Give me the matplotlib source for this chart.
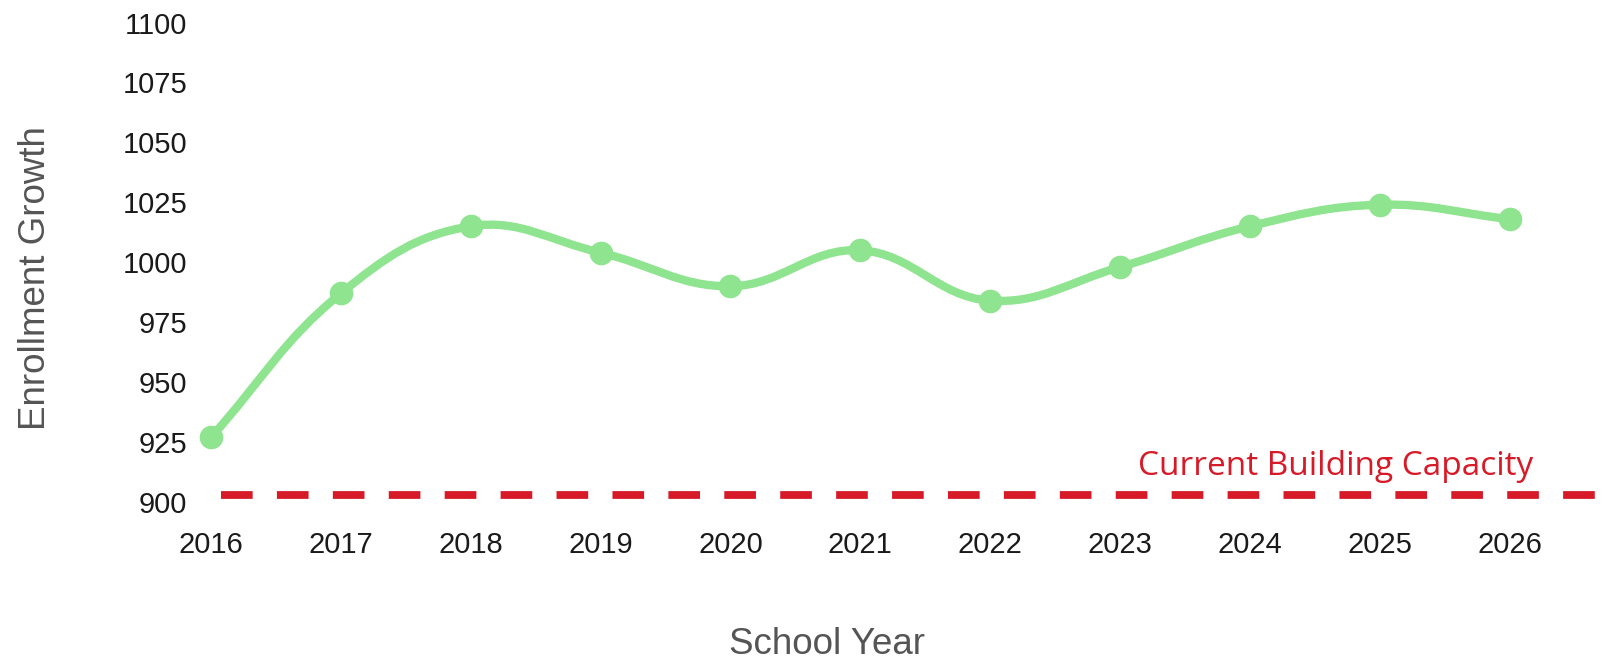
import numpy as np
import matplotlib
matplotlib.use("Agg")
from matplotlib import pyplot as plt
from matplotlib.path import Path
from matplotlib.patches import PathPatch

# data
years = [2016, 2017, 2018, 2019, 2020, 2021, 2022, 2023, 2024, 2025, 2026]
enrollment = [927, 987, 1015, 1004, 990, 1005, 984, 998, 1015, 1024, 1018]
capacity = 903
y_ticks = [900, 925, 950, 975, 1000, 1025, 1050, 1075, 1100]
capacity_label = "Current Building Capacity"

green = "#8fe48f"
red = "#d71a28"

plt.rcParams["font.family"] = ["Liberation Sans", "DejaVu Sans"]

fig = plt.figure(figsize=(16.03, 6.6), dpi=100)
ax = fig.add_axes([211 / 1603, 158 / 660, 1392 / 1603, 479.5 / 660])
ax.set_xlim(2016, 2026.72)
ax.set_ylim(900, 1100)

# smooth line like chart.js (tension 0.4), control points worked out in pixel space
pts = ax.transData.transform(np.column_stack([years, enrollment]))
t = 0.4
n = len(pts)
cp_prev, cp_next = [], []
for i in range(n):
    prev = pts[i - 1] if i > 0 else pts[i]
    nxt = pts[i + 1] if i < n - 1 else pts[i]
    d01 = np.hypot(*(pts[i] - prev))
    d12 = np.hypot(*(nxt - pts[i]))
    tot = d01 + d12
    fa = t * d01 / tot
    fb = t * d12 / tot
    cp_prev.append(pts[i] - fa * (nxt - prev))
    cp_next.append(pts[i] + fb * (nxt - prev))

verts = [pts[0]]
codes = [Path.MOVETO]
for i in range(n - 1):
    verts += [cp_next[i], cp_prev[i + 1], pts[i + 1]]
    codes += [Path.CURVE4] * 3
verts = ax.transData.inverted().transform(np.array(verts))
curve = PathPatch(Path(verts, codes), fill=False, edgecolor=green, lw=6,
                  capstyle="round", joinstyle="round", clip_on=False, zorder=3)
ax.add_patch(curve)
ax.plot(years, enrollment, "o", ms=16, color=green, clip_on=False, zorder=4)

# capacity line
ax.axhline(capacity, xmin=0.0075, xmax=1, color=red, lw=5.6,
           linestyle=(0, (4.07, 3.12)), clip_on=False, zorder=2)
ax.annotate(capacity_label, xy=(1, capacity), xycoords=("axes fraction", "data"),
            xytext=(-70 * 0.72, 28 * 0.72), textcoords="offset points",
            ha="right", va="center", color=red, fontsize=24, family=["Open Sans"])

ax.set_xticks(years)
ax.set_yticks(y_ticks)
ax.tick_params(axis="both", length=0, labelsize=21, labelcolor="#1a1a1a")
ax.tick_params(axis="y", pad=17)
ax.tick_params(axis="x", pad=21)
for s in ax.spines.values():
    s.set_visible(False)

ax.set_xlabel("School Year", fontsize=26.5, color="#555555")
ax.xaxis.set_label_coords((827 - 211) / 1392, (502 - 644) / 479.5)
ax.xaxis.label.set_va("center")
ax.set_ylabel("Enrollment Growth", fontsize=26.5, color="#555555")
ax.yaxis.set_label_coords((36 - 211) / 1392, (502 - 278) / 479.5)
ax.yaxis.label.set_va("center")

fig.savefig("out.png", dpi=100)
